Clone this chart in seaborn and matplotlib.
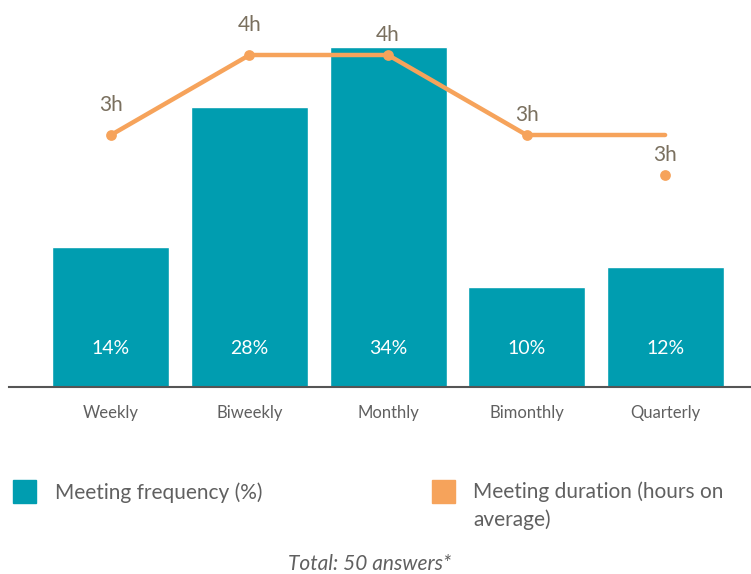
import numpy as np
import pandas as pd
import seaborn as sns
import matplotlib.pyplot as plt
from matplotlib.patches import Rectangle

categories = ["Weekly", "Biweekly", "Monthly", "Bimonthly", "Quarterly"]
frequency = [14, 28, 34, 10, 12]
duration = [3.0, 4.0, 4.0, 3.0, 2.5]
duration_line = [3.0, 4.0, 4.0, 3.0, 3.0]
duration_labels = ["3h", "4h", "4h", "3h", "3h"]

teal = "#009DB0"
orange = "#F6A35B"
label_col = "#7A705F"
text_col = "#606060"

sns.set_style("white")
plt.rcParams['font.family'] = ['Lato', 'DejaVu Sans']

df = pd.DataFrame({"cat": categories, "freq": frequency,
                   "dur": duration, "line": duration_line})
x = np.arange(len(categories))

fig = plt.figure(figsize=(7.51, 5.74), dpi=100)
ax = fig.add_axes([9 / 751, 1 - 387 / 574, 1 - 9 / 751, (387 - 20) / 574])

sns.barplot(data=df, x="cat", y="freq", color=teal, saturation=1,
            width=0.845, ax=ax)
ax.set_xlim(-0.736, 4.62)
ax.set_ylim(0, 36.7)
for i, v in enumerate(frequency):
    ax.text(i, 3.9, f"{v}%", ha="center", va="center", color="white",
            fontsize=14)

sns.despine(ax=ax, left=True)
ax.spines["bottom"].set_color("#555555")
ax.spines["bottom"].set_linewidth(1.5)
ax.set_yticks([])
ax.set_xlabel("")
ax.set_ylabel("")
ax.tick_params(axis="x", length=0, pad=13, labelsize=12, labelcolor=text_col)

ax2 = ax.twinx()
sns.lineplot(x=x, y=df["line"], color=orange, lw=3.2, ax=ax2)
ax2.scatter(x, duration, s=60, color=orange, zorder=5, linewidths=0)
ax2.set_ylim(-0.15, 4.4375)
ax2.set_axis_off()
offsets = [30, 30, 20, 20, 20]
for i, (v, lab) in enumerate(zip(duration, duration_labels)):
    ax2.annotate(lab, (i, v), xytext=(0, offsets[i]), textcoords="offset pixels",
                 ha="center", va="center", fontsize=15, color=label_col)

# legend
fig.patches.append(Rectangle((13 / 751, 1 - 503 / 574), 23 / 751, 23 / 574,
                             transform=fig.transFigure, color=teal))
fig.patches.append(Rectangle((432 / 751, 1 - 503 / 574), 23 / 751, 23 / 574,
                             transform=fig.transFigure, color=orange))
fig.text(55 / 751, 1 - 493 / 574, "Meeting frequency (%)", ha="left", va="center",
         fontsize=15, color=text_col)
fig.text(473 / 751, 1 - 481 / 574, "Meeting duration (hours on\naverage)",
         ha="left", va="top", fontsize=15, color=text_col, linespacing=1.45)
fig.text(370 / 751, 1 - 564 / 574, "Total: 50 answers*", ha="center", va="center",
         fontsize=15, color=text_col, style="italic")

fig.savefig("out.png", dpi=100)
